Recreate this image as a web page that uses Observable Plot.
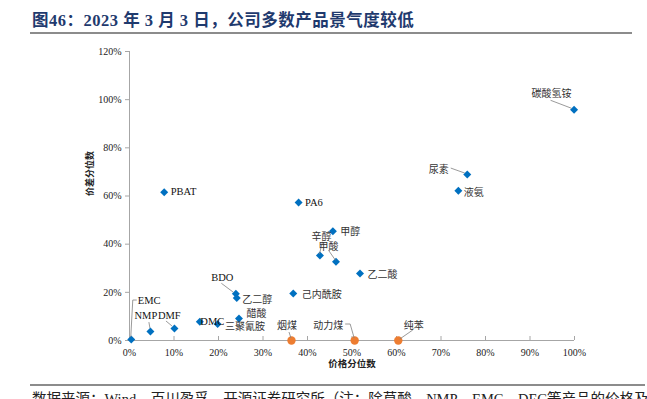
<!DOCTYPE html>
<html>
<head>
<meta charset="utf-8">
<script src="https://cdn.jsdelivr.net/npm/d3@7"></script>
<script src="https://cdn.jsdelivr.net/npm/@observablehq/plot@0.6"></script>
<style>
  body { margin: 0; background: #fff; }
  #wrap { position: relative; width: 647px; height: 399px; overflow: hidden; background: #fff; }
  #title { position: absolute; left: 32px; top: 7px; font: bold 16.5px "Liberation Serif", "Noto Sans CJK SC", serif; letter-spacing: 0.5px; color: #1F3A6E; white-space: nowrap; }
  .rule { position: absolute; left: 30px; height: 2px; background: #8C8C8C; }
  #foot { position: absolute; left: 32px; top: 387px; font: 14.5px "Liberation Serif", "Noto Sans CJK SC", serif; color: #222; white-space: nowrap; }
  #chart { position: absolute; left: 0; top: 35px; }
</style>
</head>
<body>
<div id="wrap">
  <div id="title">图46：2023 年 3 月 3 日，公司多数产品景气度较低</div>
  <div class="rule" style="top:32px;width:602px"></div>
  <div id="chart"></div>
  <div class="rule" style="top:384px;width:615px"></div>
  <div id="foot">数据来源：Wind、百川盈孚、开源证券研究所（注：除草酸、NMP、EMC、DEC等产品的价格及</div>
</div>
<script>
// Products (blue diamonds)
const products = ["EMC","NMP","DMF","DMC","三聚氰胺","醋酸","BDO","乙二醇","PBAT","PA6","己内酰胺","甲醇","辛醇","甲酸","乙二酸","液氨","尿素","碳酸氢铵"];
const priceQuantile = [0.004,0.047,0.101,0.158,0.198,0.246,0.239,0.241,0.078,0.380,0.368,0.457,0.428,0.464,0.518,0.739,0.759,0.999];
const spreadQuantile = [0.004,0.037,0.050,0.078,0.068,0.091,0.194,0.176,0.616,0.573,0.195,0.454,0.353,0.327,0.278,0.622,0.689,0.958];

// Coal / benzene (orange circles)
const rawNames = ["烟煤","动力煤","纯苯"];
const rawPriceQuantile = [0.364,0.506,0.604];
const rawSpreadQuantile = [0,0,0];

const xTicks = [0,0.1,0.2,0.3,0.4,0.5,0.6,0.7,0.8,0.9,1.0];
const yTicks = [0,0.2,0.4,0.6,0.8,1.0,1.2];
const xLabel = "价格分位数";
const yLabel = "价差分位数";

// label placement (pixel offsets from the point), styling only
const layout = {
  "EMC":   {dx:7, dy:-39, a:"start", lead:[[6,-39],[2,-39],[0,-2]]},
  "NMP":   {dx:-4, dy:-16, a:"middle", lead:[[-1,-9],[0,-3]]},
  "DMF":   {dx:-16, dy:-12, a:"start", lead:[[-8,-7],[-2,-2]]},
  "DMC":   {dx:1, dy:0, a:"start"},
  "三聚氰胺": {dx:8, dy:2, a:"start"},
  "醋酸":  {dx:8, dy:-6, a:"start"},
  "BDO":   {dx:-13, dy:-16, a:"middle", lead:[[-14,-10],[-2,-1]]},
  "乙二醇": {dx:6, dy:1, a:"start"},
  "PBAT":  {dx:7, dy:0, a:"start"},
  "PA6":   {dx:7, dy:0, a:"start"},
  "己内酰胺": {dx:9, dy:0, a:"start"},
  "甲醇":  {dx:8, dy:0, a:"start"},
  "辛醇":  {dx:2, dy:-19, a:"middle", lead:[[3,-13],[0,-1]]},
  "甲酸":  {dx:-7, dy:-16, a:"middle", lead:[[-7,-11],[0,-1]]},
  "乙二酸": {dx:8, dy:0, a:"start"},
  "液氨":  {dx:6, dy:1, a:"start"},
  "尿素":  {dx:-18, dy:-6, a:"end", lead:[[-16,-6],[-2,-1]]},
  "碳酸氢铵": {dx:-22, dy:-17, a:"middle", lead:[[-23,-9],[-2,-1]]},
  "烟煤":  {dx:-4, dy:-16, a:"middle", lead:[[-2,-8],[0,-2]]},
  "动力煤": {dx:-11, dy:-16, a:"end", lead:[[-9,-16],[-4,-16],[0,-2]]},
  "纯苯":  {dx:16, dy:-16, a:"middle", lead:[[15,-10],[2,-1]]}
};

const pts = products.map((n,i) => ({name:n, x:priceQuantile[i], y:spreadQuantile[i]}));
const raw = rawNames.map((n,i) => ({name:n, x:rawPriceQuantile[i], y:rawSpreadQuantile[i]}));
const fmt = d3.format(".0%");
const axisColor = "#A6A6A6";

const chart = Plot.plot({
  width: 647,
  height: 345,
  marginLeft: 129,
  marginRight: 73,
  marginTop: 16,
  marginBottom: 40,
  style: {fontFamily: "'Liberation Serif','Noto Sans CJK SC',serif", fontSize: "10px", color: "#222", background: "transparent"},
  x: {domain: [0, 1]},
  y: {domain: [0, 1.2]},
  marks: [
    Plot.ruleX([0], {stroke: axisColor}),
    Plot.ruleY([0], {stroke: axisColor}),
    Plot.axisY({ticks: yTicks, tickFormat: fmt, tickSize: 4, tickPadding: 4, stroke: axisColor, label: null, fontSize: 10}),
    Plot.axisX({ticks: xTicks, tickFormat: fmt, tickSize: -4, tickPadding: 12, stroke: axisColor, label: null, fontSize: 10}),
    Plot.text([yLabel], {frameAnchor: "left", dx: -39, rotate: -90, fontWeight: "bold", fontSize: 9, fill: "#222"}),
    Plot.text([xLabel], {frameAnchor: "bottom", dy: 26, fontWeight: "bold", fontSize: 9.5, fill: "#222"}),
    Plot.dot(pts, {x: "x", y: "y", symbol: "diamond2", r: 3.6, fill: "#0070C0", stroke: "none"}),
    Plot.dot(raw, {x: "x", y: "y", r: 4.2, fill: "#ED7D31", stroke: "none"})
  ]
});
document.getElementById("chart").appendChild(chart);

// labels and leader lines placed via the chart's own scales
const sx = chart.scale("x"), sy = chart.scale("y");
const svg = d3.select(chart);
const g = svg.append("g");
const all = pts.concat(raw);
all.forEach(d => {
  const L = layout[d.name];
  const px = sx.apply(d.x), py = sy.apply(d.y);
  if (L.lead) {
    g.append("polyline")
      .attr("points", L.lead.map(([a,b]) => `${px+a},${py+b}`).join(" "))
      .attr("fill", "none").attr("stroke", "#808080").attr("stroke-width", 0.8);
  }
  const latin = /^[A-Za-z0-9]+$/.test(d.name);
  g.append("text")
    .attr("x", px + L.dx).attr("y", py + L.dy)
    .attr("text-anchor", L.a)
    .attr("dominant-baseline", "central")
    .attr("font-size", latin ? 10.5 : 10)
    .attr("font-family", latin ? "'Liberation Serif',serif" : "'Noto Sans CJK SC',sans-serif")
    .attr("fill", latin ? "#111" : "#333")
    .text(d.name);
});
</script>
</body>
</html>
